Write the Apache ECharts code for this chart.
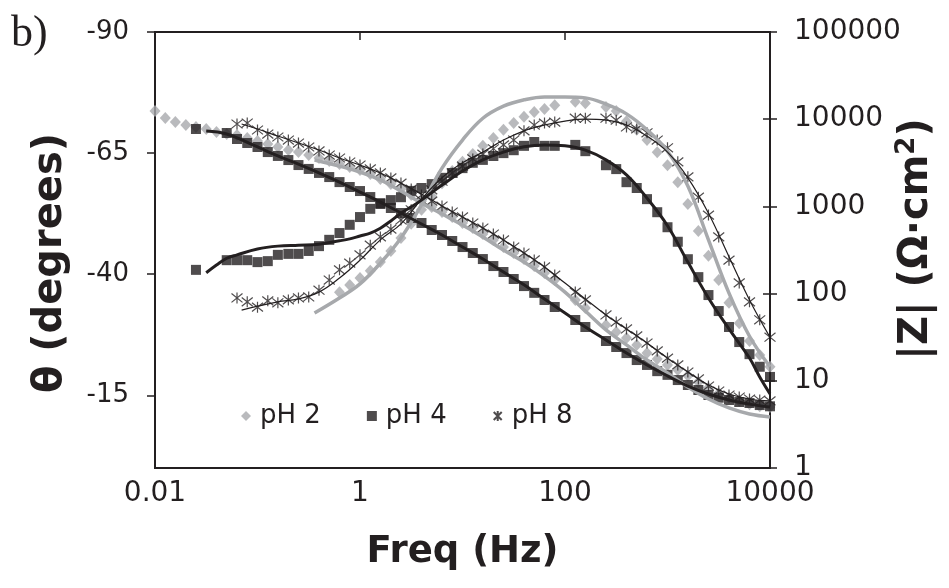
<!DOCTYPE html>
<html><head><meta charset="utf-8">
<script src="https://cdn.jsdelivr.net/npm/echarts@6/dist/echarts.min.js"></script>
<style>html,body{margin:0;padding:0;background:#fff}#c{width:949px;height:588px}</style>
</head><body><div id="c"></div>
<script>
// Frequency grid of the measured points (Hz)
const freq = [0.01,0.0126,0.0158,0.02,0.0251,0.0316,0.0398,0.0501,0.0631,0.0794,
  0.1,0.126,0.158,0.2,0.251,0.316,0.398,0.501,0.631,0.794,
  1,1.26,1.58,2,2.51,3.16,3.98,5.01,6.31,7.94,
  10,12.6,15.8,20,25.1,31.6,39.8,50.1,63.1,79.4,
  100,126,158,200,251,316,398,501,631,794,
  1000,1260,1580,2000,2510,3160,3980,5010,6310,7940,10000];

// |Z| (ohm.cm2) measured
const pH2_Z = [12400,10300,9290,8580,8140,7720,7130,6760,6590,6090,
  5620,5200,4800,4430,4200,3880,3590,3320,3060,2830,
  2610,2350,2060,1810,1580,1350,1150,985,862,756,
  645,565,482,412,342,292,249,207,172,143,
  null,84.5,68.4,null,43.6,36.3,31.0,25.8,20.8,17.8,
  15.2,13.3,11.4,9.7,8.3,7.2,6.4,5.9,5.4,5.1,5.0];
const pH4_Z = [null,null,null,null,7720,null,null,6950,5930,5330,
  4800,4200,3790,3400,2980,2690,2420,2170,1900,1670,
  1500,1280,1090,959,840,736,645,536,470,401,
  342,292,249,207,177,147,122,102,84.5,70.2,
  null,49.8,41.4,null,28.6,24.4,20.8,17.3,15.2,12.9,
  11.7,10.2,8.95,7.84,6.87,6.4,6.02,5.71,5.56,5.27,5.1];
const pH8_Z = [null,null,null,null,null,null,null,null,8810,9040,
  7520,6760,6250,5770,5330,4800,4320,3880,3590,3230,
  2980,2690,2420,2120,1850,1580,1350,1150,1010,862,
  756,645,565,482,412,342,292,243,202,163,
  null,104,84.5,null,56.9,47.2,39.3,32.7,27.1,22.0,
  18.2,15.2,12.6,10.5,8.71,7.64,6.87,6.52,6.18,6.02,5.88];

// phase angle (degrees) measured
const pH2_phase = [null,null,null,null,null,null,null,null,null,null,
  null,null,null,null,null,null,null,null,-36.3,-37.8,
  -39.2,-40.7,-42.5,-44.8,-47.5,-50.4,-53.3,-56.1,-58.8,-61.3,
  -63.2,-64.8,-66.5,-68.1,-69.8,-71.2,-72.5,-73.5,-74.1,-74.9,
  null,-75.6,-75.3,null,-74.5,-73.7,-71.6,-69.8,-67.7,-65.2,
  -62.5,-59.0,-54.5,-48.9,-43.8,-38.8,-34.1,-29.9,-26.2,-23.3,-20.9];
const pH4_phase = [null,null,null,null,-40.9,null,null,-42.9,-42.9,-42.9,
  -42.5,-42.7,-44.0,-44.2,-44.2,-44.8,-45.8,-47.1,-48.5,-50.2,
  -51.8,-53.5,-54.5,-55.3,-55.9,-57.2,-57.8,-58.6,-59.9,-60.9,
  -61.9,-63.0,-63.6,-64.4,-65.0,-65.6,-66.5,-67.3,-66.5,-66.5,
  null,-66.7,-65.4,null,-62.5,-61.7,-59.0,-57.8,-55.5,-52.8,
  -49.7,-46.7,-43.1,-39.4,-35.7,-32.4,-29.1,-26.0,-23.5,-20.9,-18.8];
const pH8_phase = [null,null,null,null,null,null,null,null,-35.1,-34.3,
  -33.2,-34.5,-34.1,-34.7,-35.1,-35.3,-36.7,-38.8,-40.9,-42.3,
  -44.0,-46.0,-47.7,-49.3,-51.2,-53.3,-55.3,-57.4,-59.2,-60.9,
  -62.3,-63.8,-64.8,-65.9,-66.7,-67.7,-69.6,-70.8,-71.2,-71.4,
  null,-72.2,-72.2,null,-72.2,-71.8,-70.4,-70.0,-69.2,-67.7,
  -66.1,-63.2,-60.1,-55.9,-52.2,-47.7,-42.9,-38.2,-34.3,-30.6,-27.0];

// fitted curves
const fit2_freq = [0.36,0.63,1,1.58,2.51,3.98,6.31,10,15.8,25.1,39.8,63.1,100,158,251,398,631,1000,1580,2510,3980,6310,10000];
const fit2_Z = [3400,2900,2480,2010,1500,1090,818,612,446,316,230,159,104,63.1,38.3,25.8,17.3,12.3,8.49,6.18,4.88,4.16,3.85];
const fit2_phase = [-32.0,-35.1,-38.0,-42.3,-47.5,-54.3,-61.9,-67.7,-72.2,-74.7,-76.0,-76.6,-76.6,-76.4,-75.1,-73.1,-69.8,-65.4,-58.2,-47.1,-36.1,-27.2,-20.9];

const fit4p_freq = [0.0316,0.0398,0.0501,0.0631,0.1,0.158,0.251,0.398,0.631,0.794,1,1.26,1.58,2,2.51,3.16,3.98,6.31,10,15.8,25.1,39.8,63.1,100,158,251,398,631,1000,1580,2510,3980,6310,7940,10000];
const fit4_phase = [-40.3,-41.9,-43.3,-44.0,-45.2,-45.8,-46.0,-46.2,-46.9,-47.3,-47.9,-48.5,-49.5,-51.0,-52.6,-53.9,-55.3,-58.4,-61.3,-63.6,-65.2,-66.3,-66.7,-66.5,-65.6,-63.6,-60.5,-55.7,-50.0,-42.5,-35.1,-28.7,-22.7,-18.8,-15.3];
const fit4z_freq = [0.0316,0.0501,0.1,0.158,0.251,0.398,0.631,1,1.58,2.51,3.98,6.31,10,15.8,25.1,39.8,63.1,100,158,251,398,631,1000,1580,2510,3980,6310,10000];
const fit4_Z = [7330,6760,4800,3790,3060,2420,1900,1460,1120,840,628,470,342,249,177,126,86.7,59.9,41.4,29.4,20.8,15.2,11.4,8.71,7.06,6.02,5.4,5.0];

const fit8_freq = [0.07,0.1,0.158,0.251,0.398,0.631,1,1.58,2.51,3.98,6.31,10,15.8,25.1,39.8,63.1,100,158,251,398,631,1000,1580,2510,3980,6310,10000];
const fit8_phase = [-32.6,-33.4,-34.3,-34.9,-36.3,-39.2,-42.9,-47.1,-50.4,-55.5,-59.9,-63.0,-65.2,-67.7,-69.6,-70.8,-71.6,-72.0,-71.8,-70.8,-68.5,-65.2,-59.9,-52.6,-43.6,-34.7,-27.0];
const fit8_Z = [8810,7720,6410,5330,4430,3590,2980,2420,1850,1390,1010,756,565,412,292,202,132,86.7,56.9,39.3,27.1,18.2,12.6,8.95,7.06,6.18,5.88];

const xTicks = [0.01, 1, 100, 10000];
const phaseTicks = [-90, -65, -40, -15];
const zTicks = [1, 10, 100, 1000, 10000, 100000];

// ---------------------------------------------------------------
const BLACK = '#231f20', GRAY = '#a7a9ac';
const FONT = 'DejaVu Sans';
const PH_OFF = 90; // phase axis drawn as theta + 90 so ticks start at -90
const pairs = (fs, vs, tf) => fs.map((f, i) => vs[i] == null ? null : [f, tf ? tf(vs[i]) : vs[i]]).filter(Boolean);
const ph = v => v + PH_OFF;
const STAR = 'path://M1,1L9,9M9,1L1,9M5,0L5,10';

const markers = [
  {name:'pH 2', sym:'diamond', size:[11,12], style:{color:GRAY}, z:pH2_Z, p:pH2_phase},
  {name:'pH 4', sym:'rect', size:10, style:{color:BLACK}, z:pH4_Z, p:pH4_phase},
  {name:'pH 8', sym:STAR, size:11, style:{color:'rgba(0,0,0,0)', borderColor:BLACK, borderWidth:1.2}, z:pH8_Z, p:pH8_phase}
];
const series = [];
markers.forEach(m => {
  series.push({type:'scatter', name:m.name, xAxisIndex:0, yAxisIndex:1, symbol:m.sym, symbolSize:m.size, itemStyle:m.style, data:pairs(freq, m.z)});
  series.push({type:'scatter', name:m.name, xAxisIndex:0, yAxisIndex:0, symbol:m.sym, symbolSize:m.size, itemStyle:m.style, data:pairs(freq, m.p, ph)});
});
const fits = [
  {fz:fit2_freq, z:fit2_Z, fp:fit2_freq, p:fit2_phase, color:GRAY, w:3.5},
  {fz:fit4z_freq, z:fit4_Z, fp:fit4p_freq, p:fit4_phase, color:BLACK, w:3},
  {fz:fit8_freq, z:fit8_Z, fp:fit8_freq, p:fit8_phase, color:BLACK, w:1.2}
];
fits.forEach((f, i) => {
  series.push({type:'line', name:'fitZ'+i, yAxisIndex:1, showSymbol:false, symbol:'none', smooth:0.4, lineStyle:{color:f.color, width:f.w}, data:pairs(f.fz, f.z)});
  series.push({type:'line', name:'fitP'+i, yAxisIndex:0, showSymbol:false, symbol:'none', smooth:0.4, lineStyle:{color:f.color, width:f.w}, data:pairs(f.fp, f.p, ph)});
});

const chart = echarts.init(document.getElementById('c'), null, {renderer:'canvas'});
chart.setOption({
  animation:false,
  backgroundColor:'#ffffff',
  grid:{left:155, right:179, top:32, bottom:120, containLabel:false, outerBoundsMode:'none',
    show:true, borderColor:BLACK, borderWidth:2, backgroundColor:'rgba(0,0,0,0)'},
  xAxis:{type:'log', logBase:100, min:xTicks[0], max:xTicks[xTicks.length-1],
    axisLine:{show:false}, splitLine:{show:false}, minorTick:{show:false},
    axisTick:{show:true, length:8, lineStyle:{color:BLACK, width:1.5}},
    axisLabel:{margin:12, fontFamily:FONT, fontSize:28, color:BLACK,
      formatter:v => {const e = Math.round(Math.log10(v)); return e < 0 ? v.toFixed(-e) : String(Math.round(v));}},
    name:'Freq (Hz)', nameLocation:'middle', nameGap:66, nameMoveOverlap:false,
    nameTextStyle:{fontFamily:FONT, fontWeight:'bold', fontSize:37, color:BLACK}},
  yAxis:[
    {type:'value', min:phaseTicks[0]+PH_OFF, max:PH_OFF, interval:phaseTicks[1]-phaseTicks[0], inverse:true, position:'left',
      axisLine:{show:false}, splitLine:{show:false},
      axisTick:{show:true, length:8, lineStyle:{color:BLACK, width:1.5}, customValues:phaseTicks.map(ph)},
      axisLabel:{margin:26, fontFamily:FONT, fontSize:26, color:BLACK, formatter:v => v >= PH_OFF ? '' : String(Math.round(v - PH_OFF))},
      name:'θ (degrees)', nameLocation:'middle', nameRotate:90, nameGap:84, nameMoveOverlap:false,
      nameTextStyle:{fontFamily:FONT, fontWeight:'bold', fontSize:40, color:BLACK, padding:[0,26,0,0]}},
    {type:'log', logBase:10, min:zTicks[0], max:zTicks[zTicks.length-1], position:'right',
      axisLine:{show:false}, splitLine:{show:false}, minorTick:{show:false},
      axisTick:{show:true, length:7, lineStyle:{color:BLACK, width:1.5}},
      axisLabel:{margin:24, fontFamily:FONT, fontSize:28, color:BLACK, formatter:v => String(Math.round(v))},
      name:'|Z| (Ω·cm{s|2})', nameLocation:'middle', nameRotate:90, nameGap:124, nameMoveOverlap:false,
      nameTextStyle:{fontFamily:FONT, fontWeight:'bold', fontSize:40, color:BLACK, padding:[0,0,0,22],
        rich:{s:{fontFamily:FONT, fontWeight:'bold', fontSize:26, color:BLACK, padding:[0,0,20,0]}}}},
    {type:'log', logBase:10, min:zTicks[0], max:zTicks[zTicks.length-1], position:'right',
      axisLine:{show:false}, splitLine:{show:false}, minorTick:{show:false},
      axisTick:{show:true, inside:true, length:7, lineStyle:{color:BLACK, width:1.5}},
      axisLabel:{show:false}}
  ],
  legend:{data:['pH 2','pH 4','pH 8'], left:236, top:398, orient:'horizontal',
    itemWidth:10, itemHeight:10, itemGap:46,
    textStyle:{fontFamily:FONT, fontSize:26, color:BLACK, padding:[0,0,0,4]}},
  graphic:[{type:'text', left:11, top:12, style:{text:'b)', fontFamily:'Liberation Serif', fontSize:44, fill:BLACK}}],
  series:series
});
</script></body></html>
